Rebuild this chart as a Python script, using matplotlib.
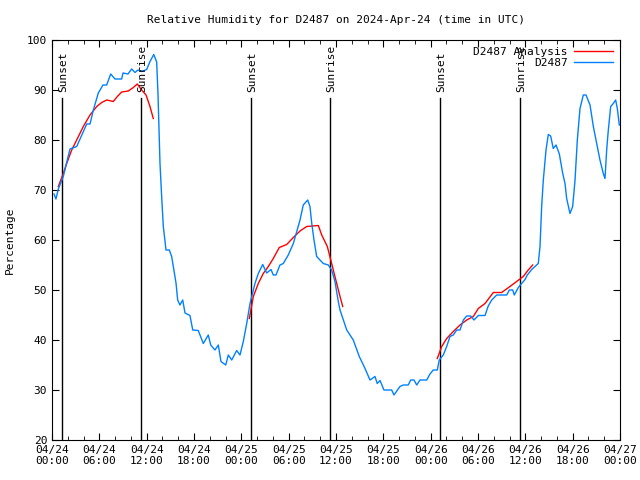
import matplotlib
matplotlib.use('Agg')
import matplotlib.pyplot as plt
from matplotlib.ticker import MultipleLocator

# hours since 2024-04-24 00:00 UTC
obs_hours = [0.25, 0.5, 0.8, 1.43, 2.28, 3.13, 4.4, 4.82, 5.24, 5.87, 6.46, 6.93, 7.44, 7.99, 8.83, 9.0,
             9.63, 10.1, 10.52, 10.9, 11.37, 12.0, 12.42, 12.9, 13.27, 13.44, 13.69, 13.9, 14.11, 14.45,
             14.87, 15.17, 15.38, 15.72, 15.93, 16.22, 16.57, 16.86, 17.49, 17.84, 18.54, 19.18, 19.81,
             20.12, 20.66, 21.08, 21.42, 22.02, 22.35, 22.78, 23.41, 23.83, 24.25, 24.68, 25.1, 25.73,
             26.15, 26.71, 27.21, 27.76, 28.05, 28.39, 28.9, 29.32, 29.95, 30.59, 31.02, 31.44, 31.85,
             32.41, 32.7, 32.92, 33.21, 33.55, 33.97, 34.39, 35.02, 35.45, 35.87, 36.29, 36.51, 37.36,
             38.19, 38.95, 39.68, 40.31, 40.94, 41.23, 41.58, 42.08, 43.06, 43.35, 44.11, 44.53, 45.16,
             45.47, 45.89, 46.23, 46.65, 47.5, 47.91, 48.33, 48.84, 49.09, 49.6, 50.03, 50.45, 50.87,
             51.3, 51.72, 52.14, 52.57, 53.07, 53.49, 54.04, 54.89, 55.3, 55.74, 56.37, 57.64, 57.97,
             58.4, 58.6, 59.11, 59.54, 59.96, 60.25, 60.81, 61.23, 61.64, 61.86, 62.07, 62.28, 62.62,
             62.91, 63.21, 63.54, 63.89, 64.31, 64.74, 65.03, 65.24, 65.66, 66.0, 66.3, 66.59, 66.93,
             67.35, 67.69, 68.2, 68.62, 69.05, 69.46, 69.88, 70.1, 70.31, 70.52, 70.82, 71.15, 71.45,
             71.66, 71.91]
obs_rh = [69.2, 68.2, 70.2, 72.7, 78.2, 78.7, 83.2, 83.2, 86, 89.4, 91, 91, 93.2, 92.2, 92.2, 93.4,
          93.2, 94.2, 93.5, 94, 93.7, 94.1, 95.7, 97.1, 95.6, 89, 75.3, 68.7, 62.7, 58,
          58, 56.7, 54.7, 51.4, 48, 47, 48, 45.4, 44.9, 42, 41.9, 39.3, 41,
          39, 38, 39, 35.7, 35, 37, 36, 37.9, 37, 39.7, 43.3, 47.3, 51.3,
          53.3, 55.1, 53.4, 54.1, 53, 53, 55, 55.3, 57, 59.3, 61.7, 64, 67,
          68, 66.7, 63.4, 60, 56.7, 56, 55.3, 55, 54, 51.7, 47.7, 46, 42,
          40, 36.7, 34.3, 32, 32.7, 31.3, 31.9, 30, 30, 29, 30.7, 31, 31,
          32, 32, 31, 32, 32, 33.2, 34, 34, 36, 37, 38.7, 40.7, 41,
          42, 42, 44, 44.8, 44.8, 44, 44.9, 44.9, 46.8, 48, 49, 49, 50,
          50, 49, 50.5, 51.3, 52.1, 53, 54.1, 54.7, 55.3, 58.7, 66.7, 72, 78,
          81.1, 80.8, 78.3, 79, 77.2, 73.3, 71.3, 68.3, 65.3, 66.7, 72, 80, 86.3,
          89, 89, 87, 82.7, 79.3, 76, 73.3, 72.3, 78, 82, 86.7, 87.3, 88,
          86.3, 83]

# analysis segments (three separate runs)
ana1_hours = [0.8, 1.43, 1.86, 2.5, 3.13, 3.97, 4.82, 5.67, 6.3, 6.93, 7.77, 8.28, 8.83, 9.67, 10.31,
              10.81, 11.37, 11.92, 12.42, 12.84]
ana1_rh = [70.7, 73.3, 75.3, 78, 80, 82.7, 85, 86.7, 87.5, 88, 87.7, 88.7, 89.6, 89.8, 90.5,
           91.2, 90, 89, 86.7, 84.3]
ana2_hours = [25.01, 25.52, 26.15, 26.78, 27.42, 28.05, 28.81, 29.75, 30.59, 31.44, 32.28, 33.76,
              34.19, 34.9, 35.45, 36.09, 36.51, 36.85]
ana2_rh = [44.3, 48.7, 51.3, 53.3, 54.7, 56.3, 58.5, 59.1, 60.5, 61.8, 62.7, 62.9,
           61, 58.7, 55.3, 51.3, 48.7, 46.7]
ana3_hours = [48.84, 49.4, 50.03, 50.87, 51.72, 52.57, 53.4, 54.04, 54.89, 55.94, 57.0, 58.05,
              58.9, 59.74, 60.37, 60.93]
ana3_rh = [36.3, 38.7, 40.3, 41.7, 43, 44, 44.7, 46.3, 47.3, 49.5, 49.5, 50.7,
           51.7, 52.7, 54, 55]

sun_hours = [1.27, 11.3, 25.2, 35.3, 49.2, 59.3]
sun_labels = ['Sunset', 'Sunrise', 'Sunset', 'Sunrise', 'Sunset', 'Sunrise']

tick_hours = list(range(0, 73, 6))
tick_labels = ['04/24\n00:00', '04/24\n06:00', '04/24\n12:00', '04/24\n18:00',
               '04/25\n00:00', '04/25\n06:00', '04/25\n12:00', '04/25\n18:00',
               '04/26\n00:00', '04/26\n06:00', '04/26\n12:00', '04/26\n18:00',
               '04/27\n00:00']

plt.rcParams['font.family'] = 'DejaVu Sans Mono'
plt.rcParams['font.size'] = 8

fig = plt.figure(figsize=(6.4, 4.8), dpi=100)
ax = fig.add_axes([52/640, 40/480, 568/640, 400/480])

# sunrise / sunset markers
for h, lab in zip(sun_hours, sun_labels):
    ax.plot([h, h], [20, 88.4], color='black', lw=1)
    ax.text(h + 0.15, 89.6, lab, rotation=90, ha='center', va='bottom', fontsize=8)

ax.plot(ana1_hours, ana1_rh, color='#ff0000', lw=1, label='D2487 Analysis')
ax.plot(ana2_hours, ana2_rh, color='#ff0000', lw=1)
ax.plot(ana3_hours, ana3_rh, color='#ff0000', lw=1)
ax.plot(obs_hours, obs_rh, color='#0080ff', lw=1, label='D2487')

ax.set_xlim(0, 72)
ax.set_ylim(20, 100)
ax.set_xticks(tick_hours)
ax.set_xticklabels(tick_labels)
ax.xaxis.set_minor_locator(MultipleLocator(2))
ax.set_yticks(range(20, 101, 10))
ax.tick_params(which='both', direction='in', top=True, right=True)
ax.tick_params(which='major', length=5)
ax.tick_params(which='minor', length=3)
ax.set_ylabel('Percentage', labelpad=9)
ax.set_title('Relative Humidity for D2487 on 2024-Apr-24 (time in UTC)', fontsize=8, pad=12)
ax.legend(loc='upper right', frameon=False, markerfirst=False, handlelength=3.5,
          borderaxespad=0.2, labelspacing=0.1, handletextpad=0.6)

plt.savefig('out.png', dpi=100)
